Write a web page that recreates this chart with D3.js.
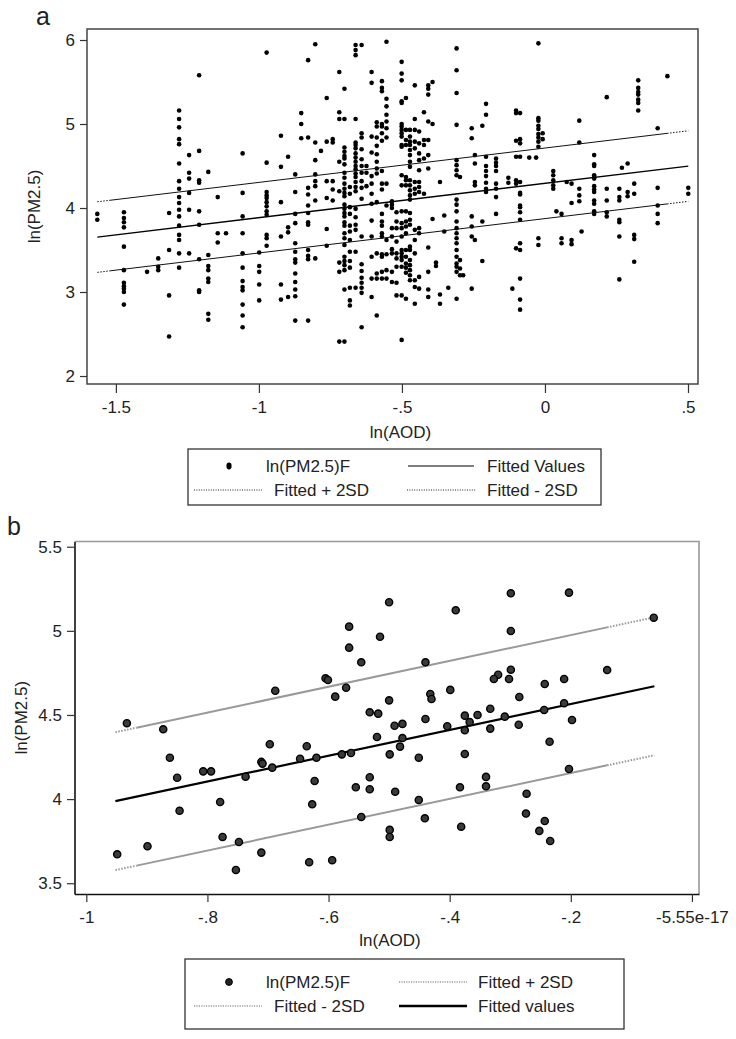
<!DOCTYPE html>
<html><head><meta charset="utf-8">
<script src="https://cdn.jsdelivr.net/npm/d3@7"></script>
<style>
body{margin:0;background:#fff}
svg{display:block}
text{font-family:"Liberation Sans",Arial,Helvetica,sans-serif;fill:#222}
</style>
</head><body>
<svg id="c" width="736" height="1039"></svg>
<script>
// ---------- Panel a data: columns of ln(AOD) with their ln(PM2.5) values ----------
const aColumns = [
[-1.565,[3.93,3.86]],
[-1.472,[3.95,3.88,3.83,3.77,3.54,3.26,3.11,3.07,3.04,3.00,2.85]],
[-1.391,[3.24]],
[-1.352,[3.40,3.30,3.26]],
[-1.314,[3.94,3.50,2.96,2.47]],
[-1.279,[5.16,5.06,4.96,4.82,4.76,4.53,4.32,4.23,4.13,4.06,3.98,3.90,3.79,3.68,3.62,3.46,3.29]],
[-1.244,[4.63,4.42,4.35,4.18,3.98,3.46]],
[-1.209,[5.58,4.68,4.33,4.30,3.96,3.80,3.39,3.02,3.00]],
[-1.177,[4.43,3.44,3.31,3.26,3.16,3.12,2.74,2.67]],
[-1.144,[4.13,3.70,3.59]],
[-1.115,[3.70]],
[-1.057,[4.65,4.18,3.90,3.70,3.46,3.29,3.13,3.06,3.02,2.85,2.72,2.58]],
[-0.999,[3.47,3.31,3.24,3.09,2.90]],
[-0.973,[5.85,4.54,4.19,4.15,4.12,4.07,4.02,3.96,3.92,3.68,3.64,3.55]],
[-0.923,[4.86,4.49,4.07,3.66,3.09,2.91]],
[-0.898,[4.61,3.77,3.71,2.94]],
[-0.873,[4.40,4.19,3.93,3.82,3.58,3.48,3.39,3.35,3.22,3.12,3.03,2.95,2.66]],
[-0.852,[5.13,5.00,4.83]],
[-0.828,[5.76,4.84,4.24,4.16,4.03,3.94,3.83,3.80,3.50,3.43,3.39,2.66]],
[-0.803,[5.95,4.78,4.57,4.40,4.32,4.26,4.09,3.40]],
[-0.783,[4.68]],
[-0.763,[5.31,4.79,4.32,4.12,3.75,3.55]],
[-0.742,[4.82,4.78,4.32,4.22,4.09]],
[-0.719,[5.62,5.14,5.06,4.55,4.20,3.35,3.24,2.41]],
[-0.701,[5.42,5.06,4.72,4.67,4.62,4.59,4.52,4.42,4.36,4.29,4.23,4.18,4.14,4.04,3.99,3.94,3.90,3.83,3.79,3.70,3.64,3.56,3.42,3.37,3.32,3.26,3.03,2.41]],
[-0.682,[4.25,4.17,4.01,3.93,3.79,3.72,3.62,3.48,3.37,3.29,3.05,2.90,2.84]],
[-0.662,[5.94,5.88,5.82,5.06,4.78,4.75,4.71,4.65,4.60,4.55,4.50,4.46,4.41,4.37,4.31,4.25,4.20,3.99,3.89,3.80,3.74,3.48,3.05]],
[-0.641,[5.94,4.89,4.84,4.70,4.58,4.50,4.42,4.32,4.24,4.11,3.66,3.33,3.25,3.17,3.11,3.05,2.99,2.58]],
[-0.624,[4.50,4.42,4.26]],
[-0.606,[5.62,5.49,4.85,4.66,4.38,4.29,4.17,4.05,3.85,3.66,3.42,3.16,2.94]],
[-0.588,[5.02,4.97,4.84,4.74,4.64,4.55,4.47,4.41,4.07,3.46,3.22,3.16,2.72]],
[-0.570,[5.51,5.43,5.39,5.00,4.97,4.89,4.80,4.44,4.29,4.22,3.93,3.84,3.79,3.70,3.66,3.45,3.42,3.24,3.16]],
[-0.554,[5.98,5.30,5.21,5.11,5.03,4.95,4.84,4.29,4.03,3.62,3.45,3.26,3.16]],
[-0.535,[4.08,4.04,4.00,3.76,3.66,3.51,3.46,3.24,3.12]],
[-0.519,[3.95,3.84,3.76,3.60,3.46,3.40,3.30,3.11,2.96]],
[-0.501,[5.74,5.60,5.52,5.27,5.25,5.00,4.97,4.93,4.89,4.85,4.75,4.73,4.39,4.27,3.96,3.82,3.76,3.66,3.50,3.46,3.42,3.38,3.30,2.96,2.43]],
[-0.486,[5.31,4.93,4.81,4.75,4.37,4.33,4.27,3.96,3.84,3.78,3.70,3.50,3.42,3.34,3.29,3.23,2.92]],
[-0.472,[4.93,4.85,4.79,4.75,4.69,4.63,4.55,4.49,4.33,4.27,4.21,4.15,4.10,3.94,3.86,3.80,3.54,3.50,3.38,3.32,3.26,3.20,3.14]],
[-0.455,[5.46,5.06,4.93,4.79,4.71,4.31,4.23,4.17,3.74,3.62,3.46,3.14,3.06,2.86]],
[-0.440,[4.91,4.77,4.65,4.57,4.45,4.31,4.25,4.19,3.76,3.70,3.18,3.04]],
[-0.423,[5.14,4.81,4.75,4.59,4.17]],
[-0.408,[5.46,5.42,5.35,5.03,4.81,4.63,4.47,3.53,3.24,3.03,2.94]],
[-0.393,[5.50,5.00,3.87]],
[-0.381,[3.35,3.31]],
[-0.367,[4.31,2.97,2.86]],
[-0.352,[3.91,3.72]],
[-0.338,[3.05]],
[-0.309,[5.90,5.64,5.37,4.99,4.57,4.51,4.45,4.39,4.10,4.04,3.96,3.84,3.76,3.70,3.64,3.58,3.50,3.42,3.34,3.30,3.24,2.92]],
[-0.297,[4.37,3.38,3.28,3.20]],
[-0.286,[3.20]],
[-0.256,[4.95,4.83,3.90,3.78,3.66,3.04]],
[-0.245,[4.63,4.53,4.31,4.27,3.62]],
[-0.219,[4.98,3.84,3.37]],
[-0.206,[5.24,5.11,4.61,4.50,4.44,4.38,4.30,4.23,4.19]],
[-0.171,[4.59,4.54,4.50,4.44,4.29,4.23,4.13,3.93]],
[-0.128,[4.36,4.30]],
[-0.114,[3.04]],
[-0.101,[5.16,5.13,4.80,4.61,4.33,4.29,3.52]],
[-0.087,[5.13,4.82,4.77,4.61,4.31,4.18,4.16,4.03,4.01,3.95,3.86,3.58,3.50,3.16,2.91,2.79]],
[-0.055,[4.60]],
[-0.031,[4.60]],
[-0.023,[5.96,5.07,5.04,4.98,4.94,4.88,4.84,4.79,4.73,3.64,3.56]],
[-0.008,[4.89,4.82]],
[0.029,[4.44,4.39,4.33,4.27,4.23]],
[0.040,[3.96]],
[0.058,[3.93,3.64,3.58]],
[0.076,[4.31]],
[0.093,[4.29,4.06,3.62,3.57]],
[0.120,[5.04,4.78,4.23,4.15,4.08]],
[0.128,[3.72]],
[0.172,[4.63,4.52,4.50,4.39,4.37,4.35,4.26,4.22,4.19,4.09,4.05,3.96,3.93]],
[0.216,[5.32,4.23,4.09,3.95,3.90]],
[0.260,[4.23,4.13,4.09,3.86,3.83,3.66,3.15]],
[0.269,[4.48]],
[0.289,[4.53,4.19,4.14]],
[0.312,[4.29,4.17,3.68,3.63,3.36]],
[0.326,[5.52,5.43,5.38,5.35,5.29,5.25,5.16]],
[0.394,[4.95,4.24,4.03,3.93,3.82]],
[0.428,[5.57]],
[0.501,[4.24,4.17]]
];
const aXTicks = [-1.5,-1,-0.5,0,0.5];
const aXTickLabels = ["-1.5","-1","-.5","0",".5"];
const aYTicks = [2,3,4,5,6];
const aFitIntercept = 4.294, aFitSlope = 0.409, aBand = 0.42;
const aFitRange = [-1.565, 0.501];
const aSolidRange = [-1.52, 0.427];

// ---------- Panel b data: [ln(AOD), ln(PM2.5)] ----------
const bPoints = [
[-0.688,4.644],[-0.605,4.718],[-0.601,4.708],[-0.589,4.609],[-0.571,4.662],[-0.566,5.025],[-0.566,4.900],[-0.546,4.813],
[-0.515,4.965],[-0.500,5.170],[-0.532,4.516],[-0.518,4.508],[-0.500,4.587],[-0.390,5.122],[-0.299,5.223],[-0.203,5.227],
[-0.299,4.999],[-0.063,5.078],[-0.440,4.813],[-0.299,4.769],[-0.320,4.739],[-0.327,4.714],[-0.302,4.714],[-0.140,4.767],
[-0.243,4.684],[-0.211,4.714],[-0.432,4.625],[-0.430,4.595],[-0.399,4.649],[-0.285,4.607],[-0.375,4.496],[-0.354,4.500],
[-0.333,4.537],[-0.309,4.490],[-0.244,4.530],[-0.211,4.570],[-0.440,4.476],[-0.198,4.470],
[-0.933,4.451],[-0.873,4.415],[-0.862,4.246],[-0.850,4.127],[-0.846,3.931],[-0.807,4.165],[-0.794,4.165],[-0.779,3.983],
[-0.775,3.775],[-0.737,4.133],[-0.711,4.221],[-0.709,4.211],[-0.697,4.326],[-0.693,4.187],[-0.647,4.240],[-0.636,4.314],
[-0.620,4.246],[-0.623,4.108],[-0.627,3.969],[-0.578,4.266],[-0.563,4.274],[-0.555,4.070],[-0.546,3.894],[-0.520,4.369],
[-0.532,4.130],[-0.532,4.059],[-0.499,4.266],[-0.499,3.817],[-0.499,3.775],[-0.748,3.745],
[-0.491,4.436],[-0.478,4.447],[-0.404,4.433],[-0.367,4.458],[-0.375,4.409],[-0.333,4.419],[-0.286,4.442],[-0.235,4.341],
[-0.478,4.363],[-0.482,4.312],[-0.451,4.246],[-0.375,4.268],[-0.203,4.179],[-0.340,4.132],[-0.340,4.076],[-0.383,4.070],
[-0.490,4.044],[-0.451,3.995],[-0.273,4.032],[-0.274,3.914],[-0.441,3.886],[-0.381,3.836],[-0.243,3.870],[-0.252,3.811],
[-0.234,3.751],
[-0.949,3.672],[-0.899,3.720],[-0.711,3.682],[-0.753,3.579],[-0.632,3.625],[-0.594,3.637]
];
const bXTicks = [-1,-0.8,-0.6,-0.4,-0.2,-5.55e-17];
const bXTickLabels = ["-1","-.8","-.6","-.4","-.2","-5.55e-17"];
const bYTicks = [3.5,4,4.5,5,5.5];
const bYTickLabels = ["3.5","4","4.5","5","5.5"];
const bFitIntercept = 4.718, bFitSlope = 0.767, bBand = 0.41;
const bFitRange = [-0.952, -0.062];
const bSolidRange = [-0.917, -0.14];

const legendALabels = ["ln(PM2.5)F","Fitted Values","Fitted + 2SD","Fitted - 2SD"];
const legendBLabels = ["ln(PM2.5)F","Fitted + 2SD","Fitted - 2SD","Fitted values"];

// ---------- drawing ----------
const svg = d3.select("#c");
const FS = 17;

function fitLine(g, xs, ys, f, range, solidRange, color, width, dottedEnds) {
  const seg = (a, b, dash) => {
    const l = g.append("line")
      .attr("x1", xs(a)).attr("y1", ys(f(a)))
      .attr("x2", xs(b)).attr("y2", ys(f(b)))
      .attr("stroke", color).attr("stroke-width", width);
    if (dash) l.attr("stroke-dasharray", "1.5,1.5");
  };
  if (dottedEnds) {
    seg(range[0], solidRange[0], true);
    seg(solidRange[0], solidRange[1], false);
    seg(solidRange[1], range[1], true);
  } else seg(range[0], range[1], false);
}

// Panel a
const xA = d3.scaleLinear().domain([-1.601, 0.535]).range([87, 698]);
const yA = d3.scaleLinear().domain([1.905, 6.131]).range([384, 29]);
const gA = svg.append("g");

const ptsA = aColumns.flatMap(([x, ys]) => ys.map(y => [x, y]));
gA.append("g").selectAll("circle").data(ptsA).join("circle")
  .attr("cx", d => xA(d[0])).attr("cy", d => yA(d[1])).attr("r", 2.3).attr("fill", "#000");

const fA = x => aFitIntercept + aFitSlope * x;
fitLine(gA, xA, yA, fA, aFitRange, aSolidRange, "#000", 1.3, false);
fitLine(gA, xA, yA, x => fA(x) + aBand, aFitRange, aSolidRange, "#111", 1, true);
fitLine(gA, xA, yA, x => fA(x) - aBand, aFitRange, aSolidRange, "#111", 1, true);

gA.append("rect")
  .attr("x", xA.range()[0]).attr("y", yA.range()[1])
  .attr("width", xA.range()[1] - xA.range()[0]).attr("height", yA.range()[0] - yA.range()[1])
  .attr("fill", "none").attr("stroke", "#444").attr("stroke-width", 1.5);

const axA_y = gA.append("g").attr("transform", `translate(${xA.range()[0]},0)`)
  .call(d3.axisLeft(yA).tickValues(aYTicks).tickFormat(d3.format("d")).tickSize(7).tickPadding(5));
const axA_x = gA.append("g").attr("transform", `translate(0,${yA.range()[0]})`)
  .call(d3.axisBottom(xA).tickValues(aXTicks).tickFormat((d, i) => aXTickLabels[i]).tickSize(9).tickPadding(8));
[axA_y, axA_x].forEach(a => {
  a.select(".domain").remove();
  a.selectAll(".tick line").attr("stroke", "#333").attr("stroke-width", 1.2);
  a.selectAll(".tick text").attr("font-size", FS).attr("fill", "#222")
    .attr("font-family", '"Liberation Sans",Arial,sans-serif');
});

gA.append("text").attr("x", (xA.range()[0] + xA.range()[1]) / 2 + 8).attr("y", 438)
  .attr("text-anchor", "middle").attr("font-size", FS).text("ln(AOD)");
gA.append("text").attr("transform", `translate(40,${(yA.range()[0] + yA.range()[1]) / 2}) rotate(-90)`)
  .attr("text-anchor", "middle").attr("font-size", FS).text("ln(PM2.5)");
svg.append("text").attr("x", 36).attr("y", 25).attr("font-size", 25).text("a");

// Legend a
const lgA = svg.append("g");
lgA.append("rect").attr("x", 188).attr("y", 449).attr("width", 413).attr("height", 56)
  .attr("fill", "none").attr("stroke", "#333").attr("stroke-width", 1.3);
lgA.append("ellipse").attr("cx", 229).attr("cy", 466).attr("rx", 2.6).attr("ry", 3.4).attr("fill", "#000");
lgA.append("text").attr("x", 266).attr("y", 472).attr("font-size", FS).text(legendALabels[0]);
lgA.append("line").attr("x1", 408).attr("x2", 474).attr("y1", 466).attr("y2", 466).attr("stroke", "#000").attr("stroke-width", 1.2);
lgA.append("text").attr("x", 487).attr("y", 472).attr("font-size", FS).text(legendALabels[1]);
lgA.append("line").attr("x1", 194).attr("x2", 262).attr("y1", 490).attr("y2", 490).attr("stroke", "#222").attr("stroke-width", 1).attr("stroke-dasharray", "1,1.4");
lgA.append("text").attr("x", 274).attr("y", 496).attr("font-size", FS).text(legendALabels[2]);
lgA.append("line").attr("x1", 407).attr("x2", 476).attr("y1", 490).attr("y2", 490).attr("stroke", "#222").attr("stroke-width", 1).attr("stroke-dasharray", "1,1.4");
lgA.append("text").attr("x", 487).attr("y", 496).attr("font-size", FS).text(legendALabels[3]);

// Panel b
const xB = d3.scaleLinear().domain([-1.0195, 0.0117]).range([74.5, 699]);
const yB = d3.scaleLinear().domain([3.436, 5.531]).range([894, 541.5]);
const gB = svg.append("g");

gB.append("path")
  .attr("d", `M${xB.range()[0]},${yB.range()[1]}H${xB.range()[1]}V${yB.range()[0]}`)
  .attr("fill", "none").attr("stroke", "#999").attr("stroke-width", 1.6);

const fB = x => bFitIntercept + bFitSlope * x;
fitLine(gB, xB, yB, x => fB(x) + bBand, bFitRange, bSolidRange, "#999", 2, true);
fitLine(gB, xB, yB, x => fB(x) - bBand, bFitRange, bSolidRange, "#999", 2, true);
fitLine(gB, xB, yB, fB, bFitRange, bSolidRange, "#000", 2.2, false);

gB.append("g").selectAll("circle").data(bPoints).join("circle")
  .attr("cx", d => xB(d[0])).attr("cy", d => yB(d[1])).attr("r", 3.6)
  .attr("fill", "#3a3a3a").attr("stroke", "#000").attr("stroke-width", 1.4);

const axB_y = gB.append("g").attr("transform", `translate(${xB.range()[0]},0)`)
  .call(d3.axisLeft(yB).tickValues(bYTicks).tickFormat((d, i) => bYTickLabels[i]).tickSize(7.5).tickPadding(5).tickSizeOuter(0));
const axB_x = gB.append("g").attr("transform", `translate(0,${yB.range()[0]})`)
  .call(d3.axisBottom(xB).tickValues(bXTicks).tickFormat((d, i) => bXTickLabels[i]).tickSize(8).tickPadding(9).tickSizeOuter(0));
[axB_y, axB_x].forEach(a => {
  a.select(".domain").attr("stroke", "#111").attr("stroke-width", 1.6);
  a.selectAll(".tick line").attr("stroke", "#333").attr("stroke-width", 1.2);
  a.selectAll(".tick text").attr("font-size", FS).attr("fill", "#222")
    .attr("font-family", '"Liberation Sans",Arial,sans-serif');
});

gB.append("text").attr("x", 390).attr("y", 946).attr("text-anchor", "middle").attr("font-size", FS).text("ln(AOD)");
gB.append("text").attr("transform", `translate(27,${(yB.range()[0] + yB.range()[1]) / 2}) rotate(-90)`)
  .attr("text-anchor", "middle").attr("font-size", FS).text("ln(PM2.5)");
svg.append("text").attr("x", 7).attr("y", 535).attr("font-size", 25).text("b");

// Legend b
const lgB = svg.append("g");
lgB.append("rect").attr("x", 185).attr("y", 959).attr("width", 439).attr("height", 70)
  .attr("fill", "none").attr("stroke", "#333").attr("stroke-width", 1.3);
lgB.append("circle").attr("cx", 229).attr("cy", 982).attr("r", 3.4).attr("fill", "#222").attr("stroke", "#000");
lgB.append("text").attr("x", 266).attr("y", 988).attr("font-size", FS).text(legendBLabels[0]);
lgB.append("line").attr("x1", 399).attr("x2", 467).attr("y1", 982).attr("y2", 982).attr("stroke", "#999").attr("stroke-width", 1.6).attr("stroke-dasharray", "1.2,1.2");
lgB.append("text").attr("x", 478).attr("y", 988).attr("font-size", FS).text(legendBLabels[1]);
lgB.append("line").attr("x1", 194).attr("x2", 262).attr("y1", 1006).attr("y2", 1006).attr("stroke", "#999").attr("stroke-width", 1.6).attr("stroke-dasharray", "1.2,1.2");
lgB.append("text").attr("x", 274).attr("y", 1012).attr("font-size", FS).text(legendBLabels[2]);
lgB.append("line").attr("x1", 399).attr("x2", 467).attr("y1", 1006).attr("y2", 1006).attr("stroke", "#000").attr("stroke-width", 2.5);
lgB.append("text").attr("x", 478).attr("y", 1012).attr("font-size", FS).text(legendBLabels[3]);
</script>
</body></html>
